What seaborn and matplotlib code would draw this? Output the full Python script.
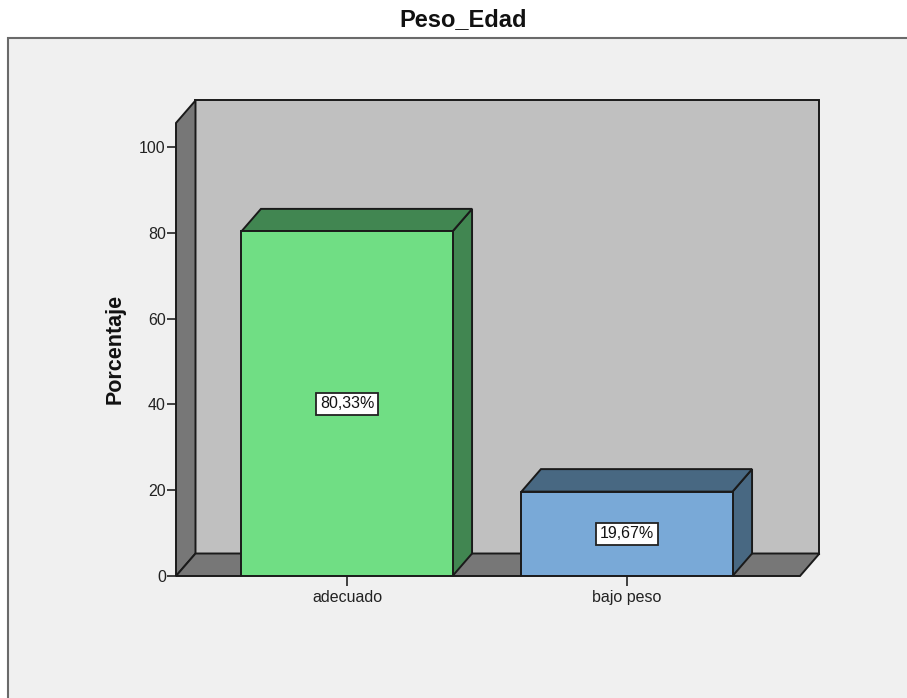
import matplotlib
matplotlib.use("Agg")
import matplotlib.pyplot as plt
from matplotlib.patches import Polygon, Rectangle
import seaborn as sns

# Data
categories = ["adecuado", "bajo peso"]
percentages = [80.33, 19.67]
y_ticks = [0, 20, 40, 60, 80, 100]

front_colors = ["#70DE84", "#79A9D7"]
shade_colors = ["#418651", "#486882"]

sns.set_style("white")
plt.rcParams["font.family"] = ["Liberation Sans", "DejaVu Sans"]

W, H = 907, 698
fig = plt.figure(figsize=(W / 100, H / 100), dpi=100)
fig.patch.set_facecolor("white")

# Light grey chart panel with dark frame
panel = Rectangle((8 / W, -0.02), 1.0, (H - 38) / H + 0.02, transform=fig.transFigure,
                  facecolor="#F0F0F0", edgecolor="#6A6A6A", linewidth=1.5, zorder=-10)
fig.patches.append(panel)

# Axes: x spans the front edge of the floor, y spans 0..100
ax = fig.add_axes([176 / W, (H - 576) / H, (800 - 176) / W, 429 / H])
ax.set_zorder(5)
ax.patch.set_visible(False)

sns.barplot(x=categories, y=percentages, hue=categories, palette=front_colors,
            saturation=1, width=0.754, edgecolor="#1A1A1A", linewidth=1.4,
            legend=False, ax=ax, zorder=5)

x0, x1 = -0.6107, 1.6179
ax.set_xlim(x0, x1)
ax.set_ylim(0, 100)

# depth offset of the 3-D box (data units)
dx = 19.5 / 280
dy = 22.5 / 4.29
wall_h = 105.6
edge = "#1A1A1A"

def face(pts, color, z):
    ax.add_patch(Polygon(pts, closed=True, facecolor=color, edgecolor=edge,
                         linewidth=1.4, clip_on=False, zorder=z, joinstyle="miter"))

# back wall, left wall, floor
face([(x0 + dx, dy), (x1 + dx, dy), (x1 + dx, wall_h + dy), (x0 + dx, wall_h + dy)], "#C0C0C0", 1)
face([(x0, 0), (x0 + dx, dy), (x0 + dx, wall_h + dy), (x0, wall_h)], "#777777", 2)
face([(x0, 0), (x1, 0), (x1 + dx, dy), (x0 + dx, dy)], "#777777", 2)

# top and side faces of each bar
for patch, dark in zip(ax.patches[:len(categories)], shade_colors):
    bx0 = patch.get_x()
    bx1 = bx0 + patch.get_width()
    v = patch.get_height()
    face([(bx1, 0), (bx1 + dx, dy), (bx1 + dx, v + dy), (bx1, v)], dark, 4)
    face([(bx0, v), (bx1, v), (bx1 + dx, v + dy), (bx0 + dx, v + dy)], dark, 4)

# value labels
for i, v in enumerate(percentages):
    label = f"{v:.2f}".replace(".", ",") + "%"
    ax.text(i, v / 2, label, ha="center", va="center", fontsize=11.5, color="#111111",
            zorder=10,
            bbox=dict(boxstyle="square,pad=0.22", facecolor="white",
                      edgecolor="#222222", linewidth=1.3))

for s in ax.spines.values():
    s.set_visible(False)

ax.set_yticks(y_ticks)
ax.set_yticklabels([str(t) for t in y_ticks])
ax.tick_params(axis="y", direction="out", length=6.5, width=1.2, pad=0.8,
               labelsize=11.5, colors="#222222", left=True)
ax.tick_params(axis="x", direction="out", length=7, width=1.2, pad=3,
               labelsize=11.5, colors="#222222", bottom=True)
for t in ax.get_xticklabels() + ax.get_yticklabels():
    t.set_color("#222222")

ax.set_xlabel("")
ax.set_ylabel("Porcentaje", fontsize=15.5, fontweight="bold", color="#111111")
ax.yaxis.label.set_va("center")
ax.yaxis.set_label_coords((115 - 176) / 624, (576 - 349) / 429)

fig.suptitle("Peso_Edad", x=463.5 / W, y=1 - 20 / H, va="center",
             fontsize=17, fontweight="bold", color="#111111")

fig.savefig("out.png", dpi=100)
